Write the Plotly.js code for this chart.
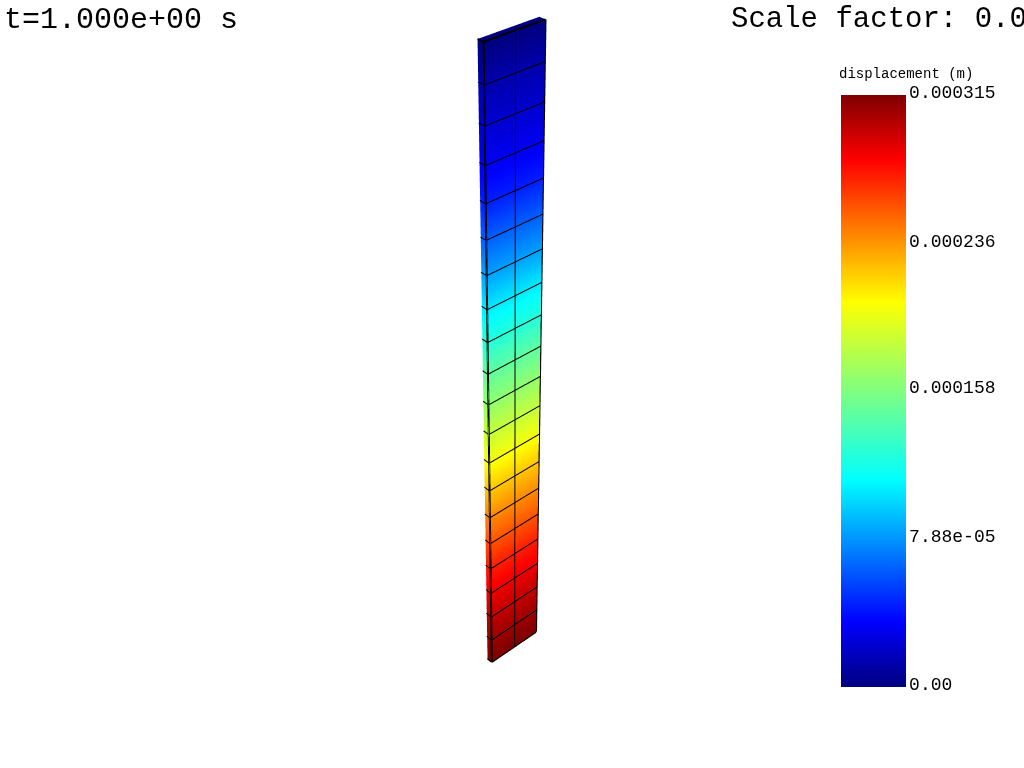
<!DOCTYPE html>
<html><head><meta charset="utf-8">
<script src="https://cdn.plot.ly/plotly-3.0.1.min.js"></script>
<style>html,body{margin:0;padding:0;background:#fff;overflow:hidden;width:1024px;height:768px}#c{position:absolute;left:0;top:-183px;width:1024px;height:1135px}</style>
</head><body><div id="c"></div>
<script>
const heightStations=[0,0.05,0.1,0.15,0.2,0.25,0.3,0.35,0.4,0.45,0.5,0.55,0.6,0.65,0.7,0.75,0.8,0.85,0.9,0.95,1.0];
const displacement=[0.000315,0.000306,0.000296,0.000284,0.000271,0.000255,0.000239,0.000221,0.000202,0.000183,0.000164,0.000145,0.000123,0.000104,0.000082,0.000063,0.000044,0.0000315,0.000022,0.0000126,0];
const widthStations=[0,0.05,0.1];
const thicknessStations=[0,0.01];
const tickValues=[0,0.0000788,0.000158,0.000236,0.000315];
const tickLabels=["0.00","7.88e-05","0.000158","0.000236","0.000315"];
const jetScale=[[0,'rgb(0,0,127)'],[0.11,'rgb(0,0,255)'],[0.35,'rgb(0,255,255)'],[0.65,'rgb(255,255,0)'],[0.89,'rgb(255,0,0)'],[1,'rgb(127,0,0)']];
const mono='"Liberation Mono", monospace';
const pageTop=183,canvasH=1135;
const py=p=>1-(p+pageTop)/canvasH;

const X=[],Y=[],Z=[],V=[],I=[],J=[],K=[];
function quadGrid(us,vs,fn,valueAt){
  const base=X.length,nu=us.length;
  vs.forEach((v,b)=>us.forEach((u,a)=>{const p=fn(u,v);X.push(p[0]);Y.push(p[1]);Z.push(p[2]);V.push(valueAt(a,b));}));
  for(let b=0;b<vs.length-1;b++)for(let a=0;a<nu-1;a++){
    const p=base+b*nu+a;
    I.push(p,p);J.push(p+1,p+nu+1);K.push(p+nu+1,p+nu);
  }
}
quadGrid(widthStations,heightStations,(u,v)=>[u,0,v],(a,b)=>displacement[b]);
quadGrid(thicknessStations,heightStations,(u,v)=>[0,u,v],(a,b)=>displacement[b]);
quadGrid(widthStations,thicknessStations,(u,v)=>[u,v,1],()=>0);

const lx=[],ly=[],lz=[];
function seg(a,b){lx.push(a[0],b[0],null);ly.push(a[1],b[1],null);lz.push(a[2],b[2],null);}
const wMax=widthStations[widthStations.length-1],tMax=thicknessStations[1];
heightStations.forEach(z=>{seg([0,0,z],[wMax,0,z]);seg([0,0,z],[0,tMax,z]);});
widthStations.forEach(x=>seg([x,0,0],[x,0,1]));

const traces=[{type:'mesh3d',x:X,y:Y,z:Z,i:I,j:J,k:K,intensity:V,colorscale:jetScale,cmin:0,cmax:0.000315,
  flatshading:false,lighting:{ambient:1,diffuse:0,specular:0,roughness:1,fresnel:0},hoverinfo:'skip',
  colorbar:{x:841/1024,xanchor:'left',xpad:0,y:py(687),yanchor:'bottom',ypad:0,lenmode:'pixels',len:613,thicknessmode:'pixels',thickness:65,
    outlinewidth:0,ticks:'',tickmode:'array',tickvals:tickValues,ticktext:tickLabels,tickfont:{family:mono,size:18,color:'#000'},
    title:{text:'displacement (m)',side:'top',font:{family:mono,size:14,color:'#000'}}}},
 {type:'scatter3d',mode:'lines',x:lx,y:ly,z:lz,line:{color:'#000',width:4},hoverinfo:'skip',showlegend:false}];
const axis={visible:false,showgrid:false,zeroline:false,showspikes:false};
Plotly.newPlot('c',traces,{width:1024,height:canvasH,paper_bgcolor:'#fff',margin:{l:0,r:0,t:0,b:0,autoexpand:false},showlegend:false,
  scene:{domain:{x:[0,1],y:[0,1]},aspectmode:'manual',aspectratio:{x:0.092,y:0.01,z:1},xaxis:axis,yaxis:axis,zaxis:axis,
    camera:{projection:{type:'perspective'},up:{x:0,y:0,z:1},center:{x:0,y:0,z:0.006},eye:{x:-0.908,y:-1.008,z:1.04}}},
  annotations:[
   {text:'t=1.000e+00 s',xref:'paper',yref:'paper',x:3/1024,y:py(2),xanchor:'left',yanchor:'top',showarrow:false,font:{family:mono,size:30,color:'#000'},borderpad:0},
   {text:'Scale factor: 0.0',xref:'paper',yref:'paper',x:730/1024,y:py(2),xanchor:'left',yanchor:'top',showarrow:false,font:{family:mono,size:29,color:'#000'},borderpad:0}
  ]},{displayModeBar:false}).then(()=>{
    document.querySelectorAll('.cbaxis text').forEach(t=>{t.setAttribute('y',(+t.getAttribute('y'))-3);t.setAttribute('x',(+t.getAttribute('x'))-1);});
    document.querySelectorAll('.cbtitle text').forEach(t=>{t.setAttribute('y',(+t.getAttribute('y'))-10);t.setAttribute('x',(+t.getAttribute('x'))-2);});
  });
</script></body></html>
